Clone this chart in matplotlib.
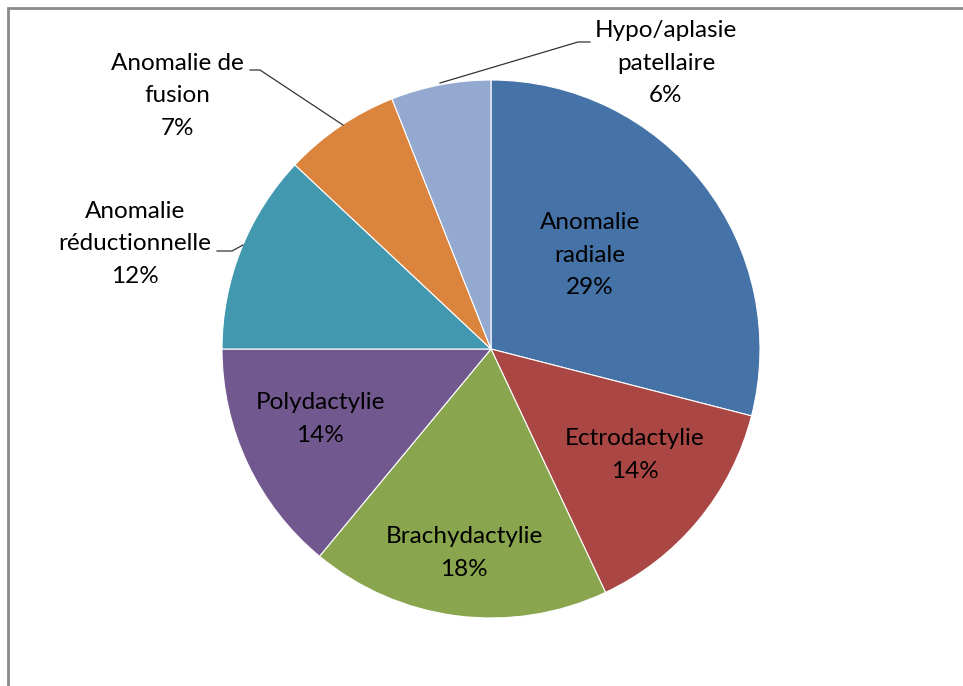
import matplotlib.pyplot as plt
import numpy as np

plt.rcParams['font.family'] = ['Lato', 'DejaVu Sans']

# Data
categories = ['Anomalie\nradiale', 'Ectrodactylie', 'Brachydactylie', 'Polydactylie',
              'Anomalie\nréductionnelle', 'Anomalie de\nfusion', 'Hypo/aplasie\npatellaire']
values = [29, 14, 18, 14, 12, 7, 6]
colors = ['#4572A7', '#AA4643', '#89A54E', '#71588F', '#4198AF', '#DB843D', '#93A9CF']

W, H = 963, 686
fig = plt.figure(figsize=(W / 100, H / 100), dpi=100)
ax = fig.add_axes([0, 0, 1, 1])

cx, cy, r = 491, H - 349, 269
wedges, _ = ax.pie(values, colors=colors, startangle=90, counterclock=False,
                   center=(cx, cy), radius=r, frame=True,
                   wedgeprops=dict(edgecolor='white', linewidth=0.8))
ax.set_xlim(0, W)
ax.set_ylim(0, H)
ax.axis('off')

fs = 17.5
ls = 1.65
# Inside labels (pixel positions, y from top)
inside = {0: (590, 255), 1: (635, 455), 2: (464, 553), 3: (320, 419)}
for i, (x, y) in inside.items():
    ax.text(x, H - y, f"{categories[i]}\n{values[i]}%", ha='center', va='center',
            fontsize=fs, color='black', linespacing=ls)

# Outside labels with leader lines
outside = {4: (135, 244), 5: (177, 96), 6: (666, 63)}
for i, (x, y) in outside.items():
    ax.text(x, H - y, f"{categories[i]}\n{values[i]}%", ha='center', va='center',
            fontsize=fs, color='black', linespacing=ls)

leaders = [
    [(217, 251), (232, 251), (243, 245)],
    [(250, 70), (260, 70), (343, 125)],
    [(590, 42), (578, 42), (440, 83)],
]
for pts in leaders:
    xs = [p[0] for p in pts]
    ys = [H - p[1] for p in pts]
    ax.plot(xs, ys, color='#333333', lw=0.9)

# Partial chart frame (left and top edges)
ax.plot([8, 8, W], [0, H - 7.5, H - 7.5], color='#8a8a8a', lw=2, solid_joinstyle='miter')

fig.savefig('out.png', dpi=100, facecolor='white')
